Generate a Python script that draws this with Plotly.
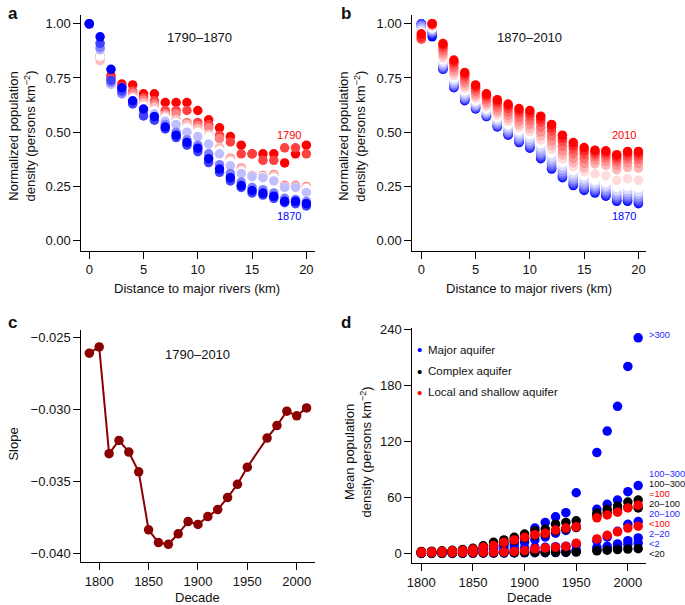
from plotly.subplots import make_subplots
import plotly.graph_objects as go

W, H = 685, 605
FONT = "Liberation Sans, Arial, Helvetica, sans-serif"

# ---- panel a: normalized density vs distance, 1790-1870 ----
distance_km = list(range(21))

a_1790 = [1.00, 0.85, 0.76, 0.722, 0.718, 0.677, 0.677, 0.637, 0.637, 0.637, 0.600, 0.557, 0.520, 0.480, 0.440, 0.400, 0.400, 0.400, 0.358, 0.400, 0.440]
a_1800 = [1.00, 0.85, 0.75, 0.710, 0.690, 0.660, 0.645, 0.600, 0.600, 0.600, 0.545, 0.535, 0.485, 0.455, 0.400, 0.400, 0.370, 0.370, 0.428, 0.428, 0.400]
a_1810 = [1.00, 0.85, 0.72, 0.700, 0.680, 0.648, 0.630, 0.585, 0.585, 0.545, 0.530, 0.520, 0.470, 0.380, 0.335, 0.300, 0.300, 0.305, 0.255, 0.255, 0.250]
a_1820 = [1.00, 0.83, 0.71, 0.690, 0.665, 0.635, 0.615, 0.575, 0.560, 0.535, 0.515, 0.490, 0.430, 0.375, 0.330, 0.300, 0.295, 0.300, 0.250, 0.250, 0.245]
a_1830 = [1.00, 0.85, 0.70, 0.680, 0.655, 0.620, 0.600, 0.565, 0.545, 0.520, 0.500, 0.480, 0.415, 0.365, 0.320, 0.295, 0.295, 0.290, 0.245, 0.245, 0.240]
a_1840 = [1.00, 0.88, 0.72, 0.675, 0.640, 0.600, 0.585, 0.550, 0.535, 0.500, 0.480, 0.445, 0.400, 0.345, 0.310, 0.295, 0.290, 0.275, 0.245, 0.245, 0.222]
a_1850 = [1.00, 0.89, 0.73, 0.680, 0.635, 0.585, 0.565, 0.535, 0.500, 0.465, 0.440, 0.400, 0.350, 0.310, 0.270, 0.245, 0.235, 0.220, 0.195, 0.190, 0.180]
a_1860 = [1.00, 0.91, 0.74, 0.690, 0.630, 0.575, 0.555, 0.515, 0.475, 0.440, 0.410, 0.360, 0.315, 0.275, 0.245, 0.220, 0.210, 0.195, 0.175, 0.170, 0.160]
a_1870 = [1.00, 0.94, 0.79, 0.705, 0.645, 0.607, 0.572, 0.524, 0.486, 0.452, 0.426, 0.378, 0.330, 0.290, 0.254, 0.231, 0.219, 0.205, 0.181, 0.181, 0.170]

# ---- panel b: 1870-2010 ----
b_1880 = [1.00, 0.95, 0.792, 0.708, 0.648, 0.609, 0.574, 0.527, 0.489, 0.455, 0.429, 0.382, 0.334, 0.294, 0.258, 0.235, 0.223, 0.209, 0.185, 0.186, 0.175]
b_1890 = [1.00, 0.96, 0.796, 0.711, 0.652, 0.613, 0.577, 0.530, 0.493, 0.460, 0.435, 0.388, 0.340, 0.300, 0.264, 0.241, 0.229, 0.215, 0.192, 0.193, 0.182]
b_1900 = [0.99, 0.96, 0.801, 0.717, 0.657, 0.617, 0.581, 0.535, 0.499, 0.466, 0.442, 0.396, 0.349, 0.308, 0.272, 0.249, 0.237, 0.224, 0.200, 0.202, 0.192]
b_1910 = [0.99, 0.97, 0.807, 0.723, 0.663, 0.623, 0.587, 0.542, 0.506, 0.474, 0.450, 0.405, 0.359, 0.317, 0.282, 0.259, 0.245, 0.232, 0.209, 0.211, 0.201]
b_1920 = [0.98, 0.97, 0.814, 0.731, 0.671, 0.629, 0.593, 0.549, 0.515, 0.483, 0.461, 0.417, 0.371, 0.329, 0.294, 0.271, 0.255, 0.243, 0.220, 0.222, 0.213]
b_1930 = [0.97, 0.98, 0.822, 0.740, 0.680, 0.637, 0.600, 0.558, 0.525, 0.494, 0.473, 0.431, 0.386, 0.343, 0.307, 0.284, 0.265, 0.253, 0.230, 0.234, 0.225]
b_1940 = [0.96, 0.98, 0.832, 0.750, 0.691, 0.646, 0.609, 0.568, 0.536, 0.507, 0.487, 0.447, 0.402, 0.359, 0.323, 0.300, 0.278, 0.268, 0.246, 0.250, 0.242]
b_1950 = [0.95, 0.99, 0.842, 0.761, 0.702, 0.656, 0.618, 0.579, 0.549, 0.521, 0.503, 0.464, 0.421, 0.376, 0.341, 0.318, 0.308, 0.299, 0.278, 0.285, 0.278]
b_1960 = [0.94, 0.99, 0.853, 0.773, 0.714, 0.666, 0.628, 0.591, 0.562, 0.535, 0.518, 0.482, 0.439, 0.394, 0.359, 0.336, 0.354, 0.347, 0.327, 0.337, 0.334]
b_1970 = [0.93, 1.00, 0.865, 0.786, 0.727, 0.677, 0.638, 0.603, 0.577, 0.551, 0.536, 0.501, 0.460, 0.413, 0.379, 0.356, 0.371, 0.366, 0.347, 0.358, 0.356]
b_1980 = [0.93, 1.00, 0.878, 0.800, 0.741, 0.689, 0.650, 0.617, 0.593, 0.568, 0.555, 0.523, 0.482, 0.435, 0.401, 0.378, 0.387, 0.383, 0.364, 0.377, 0.375]
b_1990 = [0.93, 1.00, 0.891, 0.814, 0.756, 0.701, 0.661, 0.631, 0.608, 0.585, 0.574, 0.545, 0.505, 0.457, 0.422, 0.399, 0.399, 0.395, 0.377, 0.390, 0.389]
b_2000 = [0.94, 1.00, 0.901, 0.824, 0.766, 0.710, 0.670, 0.641, 0.620, 0.598, 0.588, 0.560, 0.522, 0.472, 0.438, 0.415, 0.409, 0.406, 0.387, 0.402, 0.401]
b_2010 = [0.954, 1.00, 0.909, 0.833, 0.775, 0.718, 0.677, 0.650, 0.630, 0.609, 0.600, 0.574, 0.536, 0.486, 0.452, 0.429, 0.417, 0.414, 0.396, 0.411, 0.411]

# ---- panel c: slope by decade (no 1960) ----
slope_decades = [1790, 1800, 1810, 1820, 1830, 1840, 1850, 1860, 1870, 1880, 1890, 1900,
                 1910, 1920, 1930, 1940, 1950, 1970, 1980, 1990, 2000, 2010]
slope = [-0.02608, -0.02564, -0.03306, -0.03214, -0.03295, -0.03432, -0.03835, -0.03924,
         -0.03936, -0.03863, -0.03778, -0.03798, -0.03743, -0.03695, -0.03611, -0.03519,
         -0.03400, -0.03198, -0.03111, -0.03011, -0.03043, -0.02988]

# ---- panel d: mean density by aquifer type and class ----
d_decades = [1800, 1810, 1820, 1830, 1840, 1850, 1860, 1870, 1880, 1890, 1900,
             1910, 1920, 1930, 1940, 1950, 1970, 1980, 1990, 2000, 2010]

major_gt300 = [2.0, 2.3, 2.7, 3.2, 3.8, 4.6, 6.0, 8.0, 10.5, 13.0, 16.0, 27.5, 33.5, 39.5, 44.0, 65.3, 108.3, 131.3, 157.8, 200.5, 231.0]
major_100_300 = [1.5, 1.8, 2.1, 2.5, 3.0, 3.6, 4.6, 6.0, 7.5, 9.5, 12.0, 15.0, 18.0, 22.0, 25.0, 29.0, 47.6, 53.0, 57.5, 66.4, 73.0]
major_20_100 = [1.0, 1.2, 1.4, 1.7, 2.0, 2.4, 3.0, 3.8, 4.5, 5.2, 6.0, 6.5, 7.0, 7.6, 8.2, 9.5, 14.0, 18.0, 24.0, 31.5, 34.5]
major_2_20 = [0.5, 0.6, 0.7, 0.8, 1.0, 1.1, 1.3, 1.5, 1.7, 1.9, 2.1, 2.4, 2.7, 3.0, 3.4, 4.0, 7.0, 8.0, 10.5, 14.0, 17.0]
major_lt2 = [0.3, 0.3, 0.4, 0.4, 0.5, 0.5, 0.6, 0.7, 0.8, 0.9, 1.0, 1.1, 1.2, 1.3, 1.5, 2.5, 4.0, 5.0, 7.0, 10.0, 11.5]

complex_100_300 = [2.5, 2.8, 3.2, 3.7, 4.5, 5.8, 8.5, 12.3, 14.8, 17.6, 21.1, 24.7, 26.5, 31.7, 33.5, 35.3, 43.5, 47.6, 51.0, 55.4, 57.5]
complex_20_100 = [1.8, 2.0, 2.3, 2.7, 3.2, 4.2, 6.0, 9.0, 11.5, 14.0, 17.0, 19.5, 21.0, 24.5, 26.5, 28.0, 41.0, 44.5, 47.0, 50.0, 49.0]
complex_lt20 = [0.4, 0.5, 0.5, 0.6, 0.7, 0.8, 0.9, 1.0, 1.1, 1.2, 1.3, 1.4, 1.5, 1.6, 1.7, 1.8, 3.2, 3.8, 4.5, 5.0, 5.5]

local_ge100 = [2.0, 2.3, 2.7, 3.2, 3.8, 4.8, 7.0, 8.8, 12.3, 14.8, 17.6, 20.4, 21.9, 25.4, 27.5, 28.9, 38.5, 41.5, 44.5, 49.0, 52.0]
local_lt100 = [1.0, 1.1, 1.2, 1.3, 1.4, 1.5, 1.6, 1.8, 2.0, 2.5, 3.5, 5.3, 6.3, 7.0, 7.8, 11.3, 15.9, 19.8, 23.5, 27.5, 29.5]

a_series = [a_1790, a_1800, a_1810, a_1820, a_1830, a_1840, a_1850, a_1860, a_1870]
b_series = [a_1870, b_1880, b_1890, b_1900, b_1910, b_1920, b_1930, b_1940, b_1950,
            b_1960, b_1970, b_1980, b_1990, b_2000, b_2010]


def ramp(n, start, end):
    # like R colorRampPalette(c(start, "white", end))
    cols = []
    for i in range(n):
        t = 2.0 * i / (n - 1)
        if t <= 1:
            c = [s + (255 - s) * t for s in start]
        else:
            c = [255 + (e - 255) * (t - 1) for e in end]
        cols.append("rgb(%d,%d,%d)" % tuple(int(round(v)) for v in c))
    return cols


def fx(p):
    return p / W


def fy(p):
    return 1 - p / H


RED, BLUE = (255, 0, 0), (0, 0, 255)

fig = make_subplots(rows=2, cols=2)

for vals, col in zip(a_series, ramp(len(a_series), RED, BLUE)):
    fig.add_trace(go.Scatter(x=distance_km, y=vals, mode="markers",
                             marker=dict(size=9.5, color=col, line=dict(width=0)),
                             hoverinfo="skip"), row=1, col=1)

for vals, col in zip(b_series, ramp(len(b_series), BLUE, RED)):
    fig.add_trace(go.Scatter(x=distance_km, y=vals, mode="markers",
                             marker=dict(size=9.5, color=col, line=dict(width=0)),
                             hoverinfo="skip"), row=1, col=2)

fig.add_trace(go.Scatter(x=slope_decades, y=slope, mode="lines+markers",
                         line=dict(color="#8B0000", width=2),
                         marker=dict(size=9.5, color="#8B0000"),
                         hoverinfo="skip"), row=2, col=1)

d_groups = [
    (major_gt300, "blue"), (major_100_300, "blue"), (major_20_100, "blue"),
    (major_2_20, "blue"), (major_lt2, "blue"),
    (complex_100_300, "black"), (complex_20_100, "black"), (complex_lt20, "black"),
    (local_ge100, "red"), (local_lt100, "red"),
]
for vals, col in d_groups:
    fig.add_trace(go.Scatter(x=d_decades, y=vals, mode="markers",
                             marker=dict(size=9.5, color=col, line=dict(width=0)),
                             hoverinfo="skip"), row=2, col=2)

axis_style = dict(showline=True, linecolor="black", linewidth=1, ticks="outside",
                  ticklen=7, tickwidth=1, tickcolor="black", showgrid=False,
                  zeroline=False, tickfont=dict(size=13, color="#111"))

left_x = [fx(76), fx(312)]
right_x = [fx(410), fx(646)]
top_y = [fy(247), fy(9)]

fig.update_xaxes(axis_style)
fig.update_yaxes(axis_style)

fig.update_xaxes(domain=left_x, range=[-0.73, 20.82], tickvals=[0, 5, 10, 15, 20], row=1, col=1)
fig.update_yaxes(domain=top_y, range=[-0.046, 1.041], tickvals=[0, 0.25, 0.5, 0.75, 1.0],
                 tickformat=".2f", row=1, col=1)
fig.update_xaxes(domain=right_x, range=[-0.82, 20.73], tickvals=[0, 5, 10, 15, 20], row=1, col=2)
fig.update_yaxes(domain=top_y, range=[-0.046, 1.041], tickvals=[0, 0.25, 0.5, 0.75, 1.0],
                 tickformat=".2f", row=1, col=2)
fig.update_xaxes(domain=left_x, range=[1781.9, 2018.8], tickvals=[1800, 1850, 1900, 1950, 2000],
                 row=2, col=1)
fig.update_yaxes(domain=[fy(562), fy(327)], range=[-0.04062, -0.02445],
                 tickvals=[-0.040, -0.035, -0.030, -0.025], tickformat=".3f", row=2, col=1)
fig.update_xaxes(domain=right_x, range=[1791.4, 2017.9], tickvals=[1800, 1850, 1900, 1950, 2000],
                 row=2, col=2)
fig.update_yaxes(domain=[fy(563), fy(325)], range=[-10.3, 241.8],
                 tickvals=[0, 60, 120, 180, 240], row=2, col=2)

ann = []


def text(s, x, y, size=13, color="#111", xanchor="center", angle=0, bold=False):
    if bold:
        s = "<b>" + s + "</b>"
    ann.append(dict(text=s, x=fx(x), y=fy(y), xref="paper", yref="paper",
                    xanchor=xanchor, yanchor="middle", showarrow=False,
                    textangle=angle, font=dict(size=size, color=color, family=FONT)))


# panel letters
text("a", 0, 8, size=17, xanchor="left", bold=True)
text("b", 336, 8, size=17, xanchor="left", bold=True)
text("c", 0, 320, size=17, xanchor="left", bold=True)
text("d", 336, 320, size=17, xanchor="left", bold=True)

# axis titles
dens_title = "Normalized population<br>density (persons km<sup>−2</sup>)"
text(dens_title, 16, 131, angle=-90)
text(dens_title, 349, 131, angle=-90)
text("Slope", 8, 442, angle=-90)
text("Mean population<br>density (persons km<sup>−2</sup>)", 355, 450, angle=-90)
text("Distance to major rivers (km)", 193, 285)
text("Distance to major rivers (km)", 528, 285)
text("Decade", 193, 597)
text("Decade", 528, 597)

# in-panel labels
text("1790–1870", 195, 32)
text("1870–2010", 528, 32)
text("1790–2010", 193, 352)
text("1790", 285, 130, size=11, color="#ff0000")
text("1870", 285, 212, size=11, color="#0000ff")
text("2010", 623, 130, size=11, color="#ff0000")
text("1870", 623, 212, size=11, color="#0000ff")

# panel d legend
for lab, col, yy in [("Major aquifer", "#0000ff", 347), ("Complex aquifer", "#000000", 369),
                     ("Local and shallow aquifer", "#ff0000", 390)]:
    text("•", 417, yy, size=15, color=col)
    text(lab, 424, yy, size=11.5, xanchor="left")

# panel d class labels
d_labels = [("&gt;300", "#2a2aff", 332), ("100–300", "#2a2aff", 473), ("100–300", "#111", 483),
            ("=100", "#ff0000", 493), ("20–100", "#111", 503), ("20–100", "#2a2aff", 513),
            ("&lt;100", "#ff0000", 523), ("2–20", "#2a2aff", 533), ("&lt;2", "#2a2aff", 543),
            ("&lt;20", "#111", 553)]
for lab, col, yy in d_labels:
    text(lab, 647, yy, size=9.3, color=col, xanchor="left")

fig.update_layout(width=W, height=H, margin=dict(l=0, r=0, t=0, b=0),
                  showlegend=False, plot_bgcolor="white", paper_bgcolor="white",
                  font=dict(family=FONT, size=13, color="#111"), annotations=ann)

# drop the default page margin so the figure sits at the window's corner
fig.write_html("out.html", config={"displayModeBar": False},
               post_script="document.body.style.margin = '0';")
